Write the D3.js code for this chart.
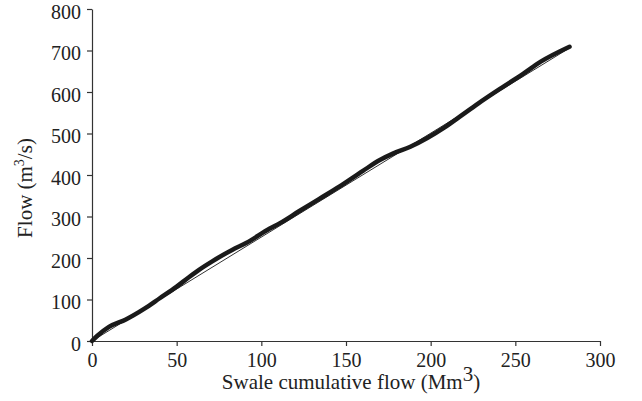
<!DOCTYPE html>
<html>
<head>
<meta charset="utf-8">
<script src="https://cdn.jsdelivr.net/npm/d3@7"></script>
<style>
  body { margin: 0; background: #fff; }
  text { font-family: "Liberation Serif", "Times New Roman", serif; fill: #222; }
</style>
</head>
<body>
<div id="main"></div>
<script>
// cumulative flow (Mm3) vs flow (m3/s)
const cumFlow = [0, 3, 10, 20, 31, 40, 50, 57, 63, 71, 83, 91, 105, 111, 122, 134, 146, 160, 170, 178, 188, 198, 208, 217, 228, 243, 255, 265, 282];
const flow    = [0, 12, 34, 52, 78, 103, 131, 153, 171, 192, 220, 236, 271, 284, 312, 342, 372, 410, 436, 452, 468, 489, 514, 540, 572, 613, 645, 673, 709];

// straight fit line
const fitX = [0, 282];
const fitY = [0, 706];

const xTicks = [0, 50, 100, 150, 200, 250, 300];
const yTicks = [0, 100, 200, 300, 400, 500, 600, 700, 800];

const width = 642, height = 401;
const margin = { top: 9, right: 42, bottom: 60, left: 92 };

const svg = d3.select('#main').append('svg')
    .attr('width', width)
    .attr('height', height);

const x = d3.scaleLinear().domain([0, 300]).range([margin.left, width - margin.right]);
const y = d3.scaleLinear().domain([0, 800]).range([height - margin.bottom, margin.top]);

let xAxis = svg.append('g')
    .attr('transform', `translate(0,${y(0)})`)
    .call(d3.axisBottom(x).tickValues(xTicks).tickSize(5).tickPadding(7).tickSizeOuter(0));

let yAxis = svg.append('g')
    .attr('transform', `translate(${x(0)},0)`)
    .call(d3.axisLeft(y).tickValues(yTicks).tickSize(5).tickPadding(6).tickSizeOuter(0));

[xAxis, yAxis].forEach(a => {
    a.selectAll('text').style('font-size', '20px').style('font-family', '"Liberation Serif", serif').attr('fill', '#222');
    a.selectAll('path, line').attr('stroke', '#333').attr('stroke-width', 1.2);
});
yAxis.selectAll('text').attr('dy', '0.45em');

// fit line (thin)
svg.append('path')
    .datum(d3.zip(fitX, fitY))
    .attr('fill', 'none')
    .attr('stroke', '#333')
    .attr('stroke-width', 1)
    .attr('d', d3.line().x(d => x(d[0])).y(d => y(d[1])));

// observed curve (thick)
svg.append('path')
    .datum(d3.zip(cumFlow, flow))
    .attr('fill', 'none')
    .attr('stroke', '#1a1a1a')
    .attr('stroke-width', 4.5)
    .attr('stroke-linejoin', 'round')
    .attr('stroke-linecap', 'round')
    .attr('d', d3.line().x(d => x(d[0])).y(d => y(d[1])).curve(d3.curveMonotoneX));

// axis titles
let xl = svg.append('text')
    .attr('x', 351)
    .attr('y', 389)
    .attr('text-anchor', 'middle')
    .style('font-size', '21px');
xl.append('tspan').text('Swale cumulative flow (Mm');
xl.append('tspan').attr('dy', -8).text('3');
xl.append('tspan').attr('dy', 8).text(')');

let yl = svg.append('text')
    .attr('transform', 'translate(32,188) rotate(-90)')
    .attr('text-anchor', 'middle')
    .style('font-size', '21px');
yl.append('tspan').text('Flow (m');
yl.append('tspan').attr('dy', -8).style('font-size', '14px').text('3');
yl.append('tspan').attr('dy', 8).text('/s)');
</script>
</body>
</html>
